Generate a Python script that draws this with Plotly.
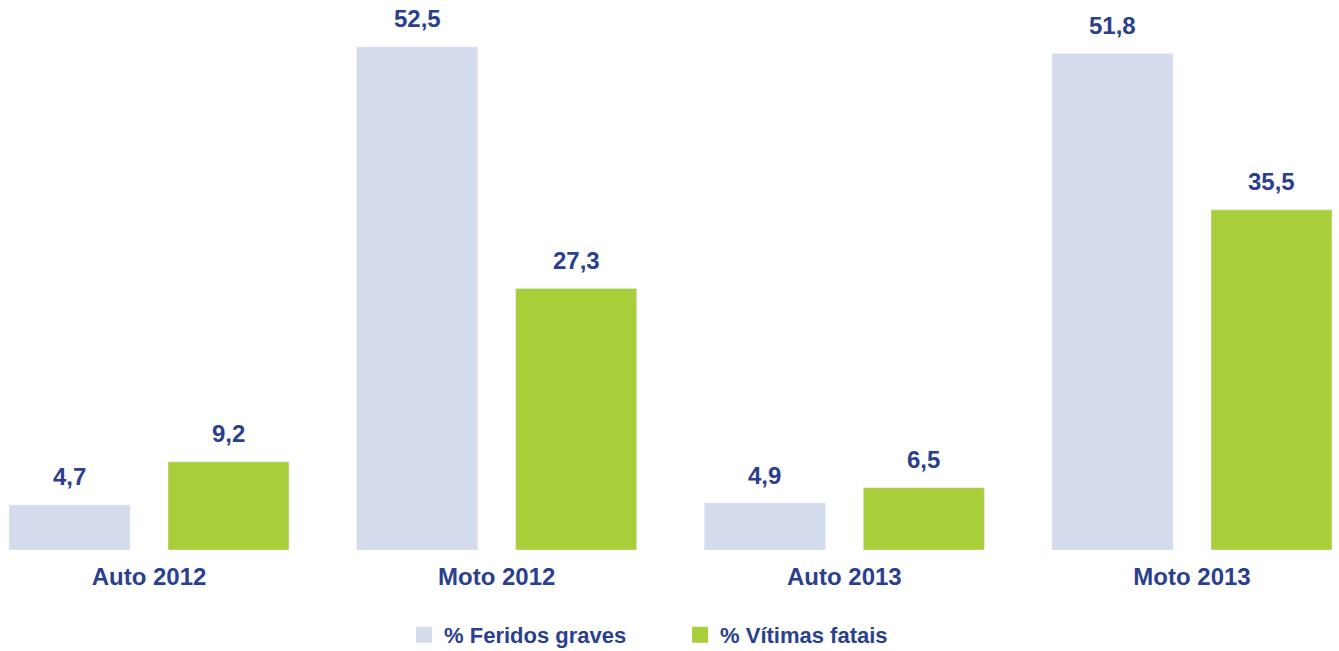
import plotly.graph_objects as go

categories = ["Auto 2012", "Moto 2012", "Auto 2013", "Moto 2013"]
feridos_graves = [4.7, 52.5, 4.9, 51.8]
vitimas_fatais = [9.2, 27.3, 6.5, 35.5]
series_names = ["% Feridos graves", "% Vítimas fatais"]

def fmt(v):
    return f"{v:.1f}".replace(".", ",")

TEXT = "#2b3f8f"
C1 = "#d4dbec"
C2 = "#a8cf3a"
FONT = "Liberation Sans"

period = 347.67
w = 121 / period
off1 = -140 / period
off2 = 19 / period

fig = go.Figure()
fig.add_trace(go.Bar(x=categories, y=feridos_graves, marker_color=C1, width=w,
                     offset=off1, showlegend=False, hoverinfo="skip"))
fig.add_trace(go.Bar(x=categories, y=vitimas_fatais, marker_color=C2, width=w,
                     offset=off2, showlegend=False, hoverinfo="skip"))
# legend entries
for name, col in zip(series_names, [C1, C2]):
    fig.add_trace(go.Scatter(x=[None], y=[None], mode="markers", name=name,
                             marker=dict(symbol="square", size=17, color=col)))

for vals, xs in ((feridos_graves, -79.5), (vitimas_fatais, 79.5)):
    for c, v in zip(categories, vals):
        fig.add_annotation(x=c, y=v, text=fmt(v), showarrow=False, xshift=xs,
                           yshift=28, yanchor="middle",
                           font=dict(family=FONT, size=24, color=TEXT, weight="bold"))

fig.update_layout(
    width=1339, height=651,
    margin=dict(l=0, r=0, t=0, b=101, autoexpand=False),
    paper_bgcolor="white", plot_bgcolor="white",
    barmode="group",
    font=dict(family=FONT, color=TEXT),
    xaxis=dict(range=[-0.4286, 3.4228], showgrid=False, zeroline=False,
               showline=False, ticks="", ticklabelstandoff=10,
               tickfont=dict(family=FONT, size=24, color=TEXT, weight="bold")),
    yaxis=dict(range=[0, 57.4], visible=False),
    legend=dict(orientation="h", x=0.5079, xanchor="center", y=-0.1545, yanchor="middle",
                font=dict(family=FONT, size=22, color=TEXT, weight="bold"),
                itemclick=False, entrywidth=231),
)

fig.write_html("out.html", config={"displayModeBar": False},
               post_script="document.body.style.margin='0';document.body.style.padding='0';")
